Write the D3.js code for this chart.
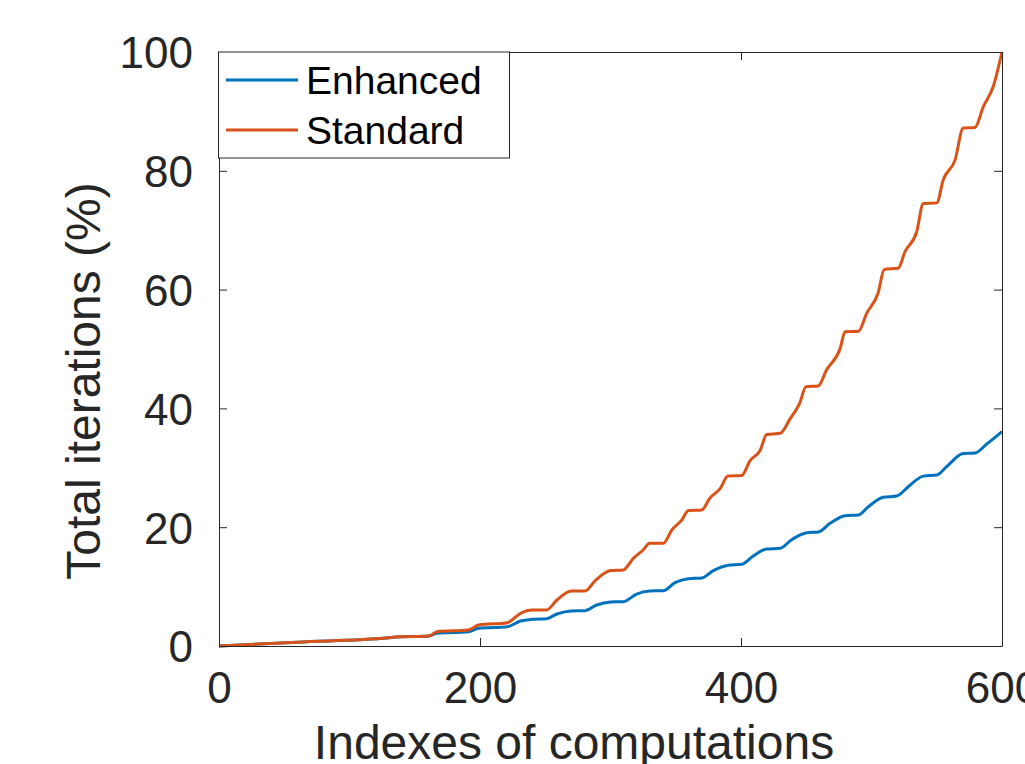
<!DOCTYPE html>
<html><head><meta charset="utf-8">
<script src="https://cdn.jsdelivr.net/npm/d3@7/dist/d3.min.js"></script>
<style>body{margin:0;background:#fff}svg{display:block}text{font-family:"Liberation Sans",Arial,Helvetica,sans-serif}</style>
</head><body>
<svg id="c" width="1025" height="764"></svg>
<script>
const seriesNames = ["Enhanced", "Standard"];
const seriesColors = ["#0072BD", "#D95319"];
const xTicks = [0, 200, 400, 600];
const yTicks = [0, 20, 40, 60, 80, 100];
const enhancedX = [0,60,130,135,161,167,191,199,221,231,240,251,259,270,280.5,289.4,300,309.8,320,330,340.5,349.4,359.7,370,378.8,390.3,400.5,409.4,419.7,430,438.8,450.4,459.4,468.2,479.7,489.9,497.6,509,519.3,528.2,539.7,550,557.6,570.3,579.3,588.3,600];
const enhancedY = [0,0.65,1.38,1.5,1.68,2.13,2.41,2.97,3.25,4.2,4.49,4.6,5.39,5.9,5.95,6.9,7.41,7.46,8.75,9.26,9.31,10.66,11.33,11.45,12.68,13.59,13.75,15.15,16.33,16.44,17.9,19.07,19.19,20.65,21.94,22.05,23.45,25.03,25.25,26.82,28.6,28.79,30.2,32.4,32.5,34,36.1];
const standardX = [0,60,130,135,161,167,191,199,221,231,240,251,259,270,280.5,288,300,309.8,317.5,325,330,340.5,347,354.6,359.7,370,376,384,390,400.5,407,414.6,419.7,430,437.5,445,449.8,459.2,465.6,476,479.7,490,496.3,505,509.8,520.5,525.7,534.6,539.7,550,555,564,570.3,579.3,585.7,593.3,600];
const standardY = [0,0.65,1.38,1.5,1.68,2.41,2.69,3.53,3.93,5.5,6.06,6.06,7.74,9.26,9.26,10.94,12.7,12.8,14.76,16.16,17.29,17.29,19.53,21.2,22.8,22.9,24.86,26.5,28.6,28.7,31.2,32.9,35.6,35.8,38.2,40.9,43.66,43.77,46.5,50.1,52.9,53,56,59.4,63.4,63.6,66.4,69.7,74.5,74.6,78.5,81.8,87.2,87.3,90.8,94.2,100];

const svg = d3.select("#c");
const L = 219, R = 1002, T = 52, B = 646;
const x = d3.scaleLinear().domain([0, 600]).range([L, R]);
const y = d3.scaleLinear().domain([0, 100]).range([B, T]);
const axisColor = "#262626";

const series = [
  {name: seriesNames[0], color: seriesColors[0], pts: enhancedX.map((v,i)=>[v, enhancedY[i]])},
  {name: seriesNames[1], color: seriesColors[1], pts: standardX.map((v,i)=>[v, standardY[i]])}
];

const line = d3.line().x(d=>x(d[0])).y(d=>y(d[1])).curve(d3.curveMonotoneX);
const clip = svg.append("clipPath").attr("id","pc").append("rect").attr("x",L).attr("y",T-3).attr("width",R-L+3).attr("height",B-T+6);
svg.append("g").attr("clip-path","url(#pc)").selectAll("path").data(series).join("path")
  .attr("d", d=>line(d.pts)).attr("fill","none").attr("stroke", d=>d.color)
  .attr("stroke-width", 3).attr("stroke-linejoin","round");

// axes (MATLAB box with inward ticks)
function styleAxis(g){
  g.select(".domain").attr("stroke", axisColor).attr("stroke-width",1);
  g.selectAll(".tick line").attr("stroke", axisColor).attr("stroke-width",1);
  g.selectAll(".tick text").attr("fill", axisColor).attr("font-size", 44);
}
const xb = svg.append("g").attr("transform",`translate(0,${B})`)
  .call(d3.axisBottom(x).tickValues(xTicks).tickSizeInner(-8).tickSizeOuter(0).tickPadding(20));
styleAxis(xb);
xb.selectAll(".tick text").attr("dy","0.71em").attr("y", 26);
const xt = svg.append("g").attr("transform",`translate(0,${T})`)
  .call(d3.axisTop(x).tickValues(xTicks).tickSizeInner(-8).tickSizeOuter(0).tickFormat(""));
styleAxis(xt);
const yl = svg.append("g").attr("transform",`translate(${L},0)`)
  .call(d3.axisLeft(y).tickValues(yTicks).tickSizeInner(-8).tickSizeOuter(0).tickPadding(26));
styleAxis(yl);
yl.selectAll(".tick text").attr("x",-26).attr("dy","0.36em");
const yr = svg.append("g").attr("transform",`translate(${R},0)`)
  .call(d3.axisRight(y).tickValues(yTicks).tickSizeInner(-8).tickSizeOuter(0).tickFormat(""));
styleAxis(yr);

// axis labels
svg.append("text").attr("x", 574).attr("y", 759).attr("text-anchor","middle")
  .attr("font-size", 48).attr("fill", axisColor).text("Indexes of computations");
svg.append("text").attr("transform","translate(100,381) rotate(-90)").attr("text-anchor","middle")
  .attr("font-size", 48).attr("fill", axisColor).text("Total iterations (%)");

// legend
const lg = svg.append("g");
lg.append("rect").attr("x", L-0.5).attr("y", T).attr("width", 291).attr("height", 106)
  .attr("fill","#fff").attr("stroke", axisColor).attr("stroke-width",1);
series.forEach((s,i)=>{
  const cy = 80 + i*50;
  lg.append("line").attr("x1",226).attr("x2",298).attr("y1",cy).attr("y2",cy)
    .attr("stroke", s.color).attr("stroke-width",3);
  lg.append("text").attr("x",306).attr("y",cy+14).attr("font-size",39).attr("fill","#000").text(s.name);
});
</script>
</body></html>
